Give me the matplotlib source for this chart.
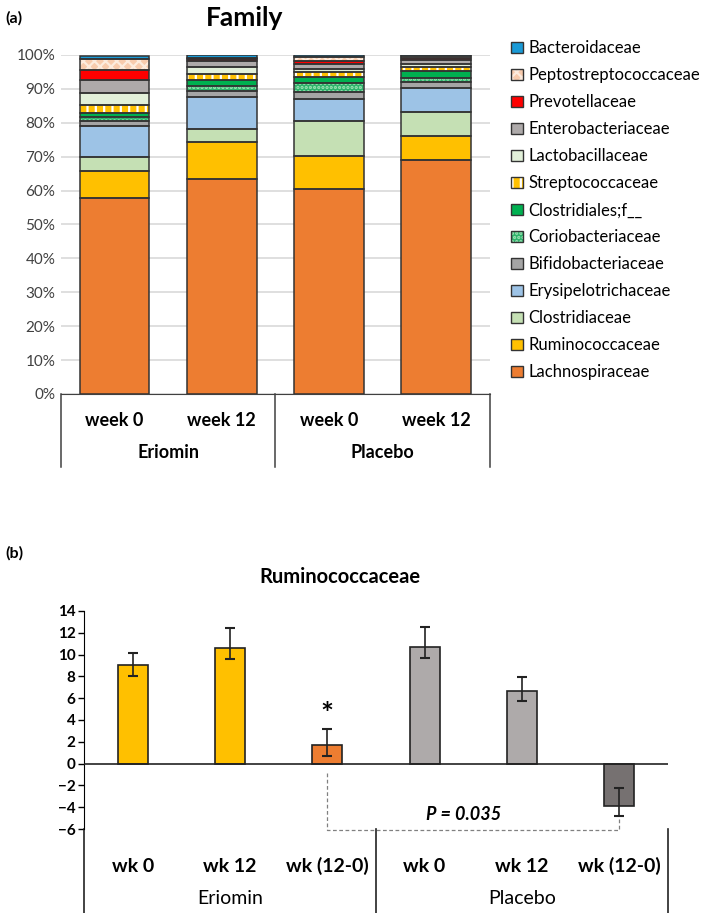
import numpy as np
import matplotlib
matplotlib.use('Agg')
import matplotlib.pyplot as plt
from matplotlib.patches import Patch
from matplotlib.legend_handler import HandlerTuple

plt.rcParams['font.family'] = ['Lato', 'DejaVu Sans']
plt.rcParams['hatch.linewidth'] = 1.6

### DATA ###
groups = ['Eriomin', 'Placebo']
weeks = ['week 0', 'week 12', 'week 0', 'week 12']
families = ['Lachnospiraceae', 'Ruminococcaceae', 'Clostridiaceae', 'Erysipelotrichaceae',
            'Bifidobacteriaceae', 'Coriobacteriaceae', 'Clostridiales;f__', 'Streptococcaceae',
            'Lactobacillaceae', 'Enterobacteriaceae', 'Prevotellaceae', 'Peptostreptococcaceae',
            'Bacteroidaceae']
eriomin_wk0 = [57.7, 8.1, 4.2, 9.1, 1.3, 1.3, 1.3, 2.3, 3.6, 3.7, 2.9, 3.3, 0.9]
eriomin_wk12 = [63.4, 11.0, 3.7, 9.5, 1.9, 1.4, 1.7, 1.8, 2.0, 1.7, 0.7, 0.3, 1.0]
placebo_wk0 = [60.4, 9.9, 10.2, 6.6, 2.0, 2.5, 2.0, 1.3, 0.9, 1.5, 1.0, 1.0, 0.8]
placebo_wk12 = [69.0, 7.1, 7.2, 7.0, 1.7, 1.1, 2.2, 1.1, 0.8, 1.3, 0.6, 0.6, 0.5]

rum_weeks = ['wk 0', 'wk 12', 'wk (12-0)', 'wk 0', 'wk 12', 'wk (12-0)']
rum_vals = [9.0, 10.6, 1.7, 10.7, 6.7, -3.9]
rum_err_lo = [1.0, 1.0, 1.0, 1.0, 1.0, 0.9]
rum_err_hi = [1.1, 1.8, 1.5, 1.8, 1.2, 1.7]

# face colour, hatch, hatch colour
styles = {
    'Lachnospiraceae': ('#ED7D31', None, None),
    'Ruminococcaceae': ('#FFC000', None, None),
    'Clostridiaceae': ('#C5E0B4', None, None),
    'Erysipelotrichaceae': ('#9DC3E6', None, None),
    'Bifidobacteriaceae': ('#A5A5A5', None, None),
    'Coriobacteriaceae': ('#2DB36B', '....', '#9FE3B5'),
    'Clostridiales;f__': ('#00B050', None, None),
    'Streptococcaceae': ('#FFC000', '||', 'white'),
    'Lactobacillaceae': ('#E2F0D9', None, None),
    'Enterobacteriaceae': ('#AEAAAA', None, None),
    'Prevotellaceae': ('#FF0000', None, None),
    'Peptostreptococcaceae': ('#F8CBAD', 'xxx', '#FDEBDD'),
    'Bacteroidaceae': ('#1A9AD6', None, None),
}
edge = '#333333'

fig = plt.figure(figsize=(7.09, 9.13), dpi=100)

### (a) FAMILY ###
ax1 = fig.add_axes([0.086, 0.5685, 0.605, 0.3713])
data = np.array([eriomin_wk0, eriomin_wk12, placebo_wk0, placebo_wk12]) / 100.0
x = np.arange(len(weeks))
bottom = np.zeros(len(weeks))
handles = []
for i, fam in enumerate(families):
    fc, hatch, hc = styles[fam]
    vals = data[:, i]
    if hatch:
        ax1.bar(x, vals, 0.65, bottom=bottom, color=fc, hatch=hatch, edgecolor=hc, linewidth=0, zorder=2)
    else:
        ax1.bar(x, vals, 0.65, bottom=bottom, color=fc, linewidth=0, zorder=2)
    ax1.bar(x, vals, 0.65, bottom=bottom, fill=False, edgecolor=edge, linewidth=1.1, zorder=3)
    bottom += vals
    if hatch:
        h = (Patch(facecolor=fc, hatch=hatch, edgecolor=hc, linewidth=0),
             Patch(fill=False, edgecolor=edge, linewidth=1.0))
    else:
        h = (Patch(facecolor=fc, linewidth=0), Patch(fill=False, edgecolor=edge, linewidth=1.0))
    handles.append(h)

ax1.set_xlim(-0.5, 3.5)
ax1.set_ylim(0, 1.0)
ax1.set_yticks(np.arange(0, 1.01, 0.1))
ax1.set_yticklabels(['%d%%' % v for v in range(0, 101, 10)], fontsize=11, color='#404040')
ax1.yaxis.grid(True, color='#D9D9D9', linewidth=1.2, zorder=0)
ax1.set_axisbelow(True)
ax1.tick_params(axis='y', length=0, pad=4)
ax1.set_xticks([])
for s in ['top', 'right', 'left']:
    ax1.spines[s].set_visible(False)
ax1.spines['bottom'].set_color('#404040')
fig.text(245 / 709, 1 - 18 / 913, 'Family', fontsize=19, fontweight='bold', ha='center', va='center')

tr = ax1.get_xaxis_transform()
for i, w in enumerate(weeks):
    ax1.text(i, -0.077, w, transform=tr, ha='center', va='center', fontsize=13, fontweight='bold')
for j, g in enumerate(groups):
    ax1.text(0.5 + 2 * j, -0.174, g, transform=tr, ha='center', va='center', fontsize=13, fontweight='bold')
for xs in [-0.5, 1.5, 3.5]:
    ax1.plot([xs, xs], [0, -0.215], transform=tr, color='#404040', lw=1.1, clip_on=False)

fig.legend(handles[::-1], families[::-1], handler_map={tuple: HandlerTuple(ndivide=1)},
           loc='upper left', bbox_to_anchor=(0.712, 0.963), frameon=False, fontsize=12,
           handlelength=0.7, handleheight=0.7, handletextpad=0.3, labelspacing=0.66,
           borderaxespad=0)

fig.text(0.007, 0.988, '(a)', fontsize=11.5, fontweight='bold', va='top')

### (b) RUMINOCOCCACEAE ###
ax2 = fig.add_axes([0.1185, 0.092, 0.8235, 0.2388])
bar_colors = ['#FFC000', '#FFC000', '#ED7D31', '#AEAAAA', '#AEAAAA', '#767171']
x2 = np.arange(len(rum_vals))
ax2.bar(x2, rum_vals, 0.31, color=bar_colors, edgecolor='#222222', linewidth=1.2, zorder=2,
        yerr=[rum_err_lo, rum_err_hi], capsize=3.5,
        error_kw=dict(ecolor='#222222', elinewidth=1.2, capthick=1.5))
ax2.set_xlim(-0.5, 5.5)
ax2.set_ylim(-6, 14)
ax2.set_yticks(range(-6, 15, 2))
ax2.tick_params(axis='y', direction='out', length=4, width=1, labelsize=11, pad=2)
for lab in ax2.get_yticklabels():
    lab.set_fontweight('bold')
ax2.set_xticks([])
for s in ['top', 'right', 'bottom']:
    ax2.spines[s].set_visible(False)
ax2.axhline(0, color='#222222', lw=1.2, zorder=3)
fig.text(340 / 709, 1 - 577 / 913, 'Ruminococcaceae', fontsize=14.5, fontweight='bold',
         ha='center', va='center')

ax2.text(2, 4.5, '*', ha='center', va='center', fontsize=22, fontweight='bold')
ax2.plot([2, 2, 5, 5], [-0.9, -6.1, -6.1, -5.0], color='#808080', lw=0.9, ls=(0, (3, 2)),
         clip_on=False, zorder=1)
ax2.text(3.4, -4.7, 'P = 0.035', ha='center', va='center', fontsize=13,
         fontweight='bold', style='italic')

tr2 = ax2.get_xaxis_transform()
for i, w in enumerate(rum_weeks):
    ax2.text(i, -0.17, w, transform=tr2, ha='center', va='center', fontsize=14, fontweight='bold')
for j, g in enumerate(groups):
    ax2.text(1 + 3 * j, -0.317, g, transform=tr2, ha='center', va='center', fontsize=14)
ax2.plot([-0.5, -0.5], [0, -0.385], transform=tr2, color='#222222', lw=1.2, clip_on=False)
for xs in [2.5, 5.5]:
    ax2.plot([xs, xs], [0, -0.385], transform=tr2, color='#222222', lw=1.2, clip_on=False)

fig.text(0.007, 0.402, '(b)', fontsize=11.5, fontweight='bold', va='top')

plt.savefig('out.png', dpi=100)
